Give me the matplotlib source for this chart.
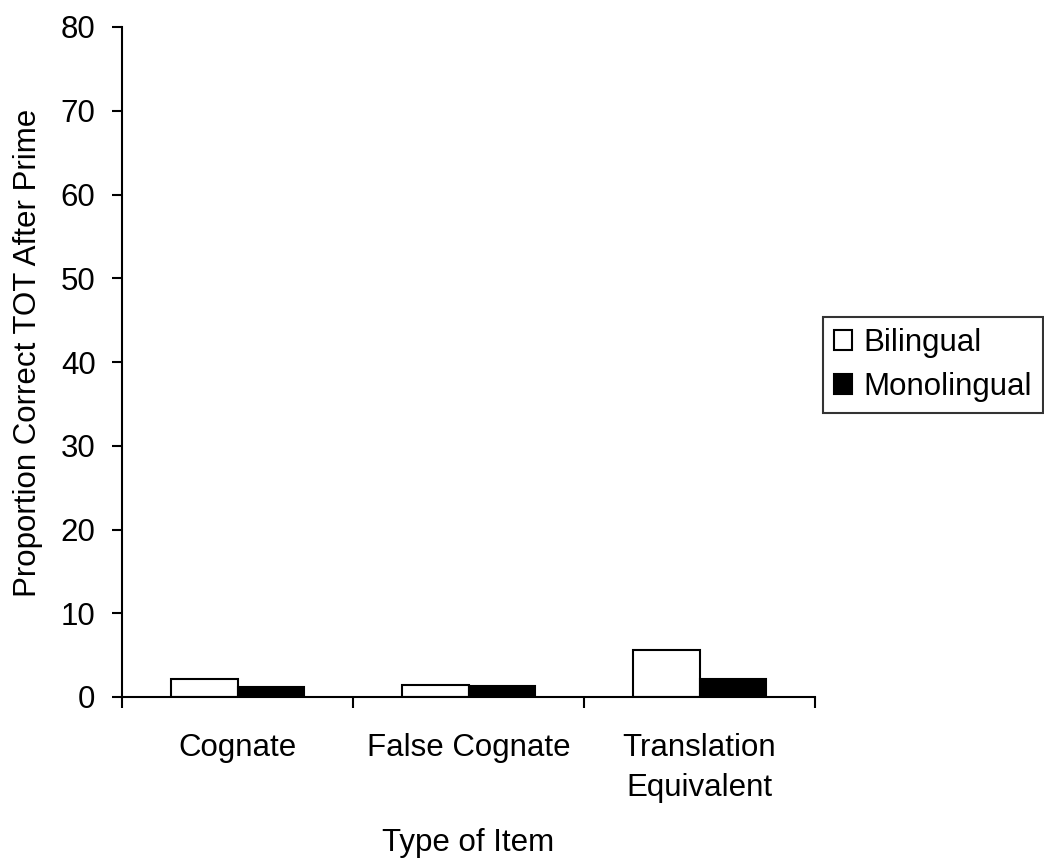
import matplotlib.pyplot as plt
import numpy as np

categories = ["Cognate", "False Cognate", "Translation\nEquivalent"]
bilingual = [2.15, 1.45, 5.6]
monolingual = [1.2, 1.35, 2.2]

plt.rcParams["font.family"] = ["Liberation Sans", "DejaVu Sans"]
fs = 22.5

fig = plt.figure(figsize=(10.44, 8.61), dpi=100)
ax = fig.add_axes([122 / 1044, 1 - 697 / 861, (815 - 122) / 1044, (697 - 27) / 861])

x = np.arange(len(categories))
w = 0.286
ax.bar(x - w / 2, bilingual, w, color="white", edgecolor="black", linewidth=1.5, label="Bilingual")
ax.bar(x + w / 2, monolingual, w, color="black", edgecolor="black", linewidth=1.5, label="Monolingual")

ax.set_xlim(-0.5, 2.5)
ax.set_ylim(0, 80)
ax.set_yticks(range(0, 81, 10))
ax.set_xticks(x)
ax.set_xticklabels(categories, fontsize=fs, linespacing=1.42)
ax.set_xticks([-0.5, 0.5, 1.5, 2.5], minor=True)
ax.tick_params(axis="x", which="major", length=0, pad=26)
ax.tick_params(axis="x", which="minor", length=8, width=1.5, direction="out")
ax.tick_params(axis="y", length=7, width=1.5, labelsize=fs, pad=12)

for s in ["top", "right"]:
    ax.spines[s].set_visible(False)
for s in ["left", "bottom"]:
    ax.spines[s].set_linewidth(1.5)

ax.set_ylabel("Proportion Correct TOT After Prime", fontsize=fs, labelpad=13, y=0.514)
ax.set_xlabel("Type of Item", fontsize=fs, labelpad=18)

leg = ax.legend(loc="center left", bbox_to_anchor=(1.0, 0.4955), fontsize=fs,
                frameon=True, fancybox=False, edgecolor="black",
                handlelength=0.58, handleheight=0.6, handletextpad=0.38,
                borderpad=0.35, labelspacing=0.45, borderaxespad=0.25)
leg.get_frame().set_linewidth(1.5)

fig.savefig("out.png", dpi=100)
